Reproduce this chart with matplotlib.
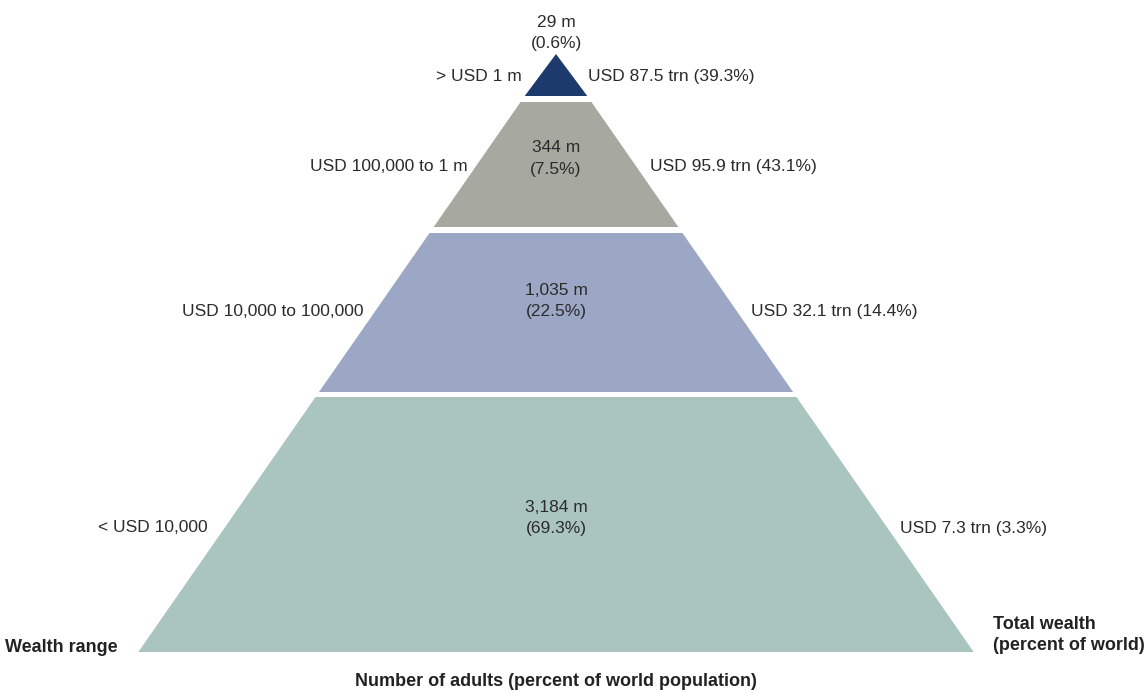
import matplotlib.pyplot as plt
from matplotlib.patches import Polygon

# data (top tier first)
wealth_ranges = ["> USD 1 m", "USD 100,000 to 1 m", "USD 10,000 to 100,000", "< USD 10,000"]
adults_m = ["29", "344", "1,035", "3,184"]
adults_pct = ["0.6", "7.5", "22.5", "69.3"]
wealth_trn = ["87.5", "95.9", "32.1", "7.3"]
wealth_pct = ["39.3", "43.1", "14.4", "3.3"]

# layout (pixel coordinates, y down)
tier_top = [54, 102, 233, 397]
tier_bottom = [96, 227, 392, 652]
apex_x, apex_y = 556, 51
slope = 0.695
colors = ["#1d3a6c", "#a7a9a1", "#9ba7c4", "#aac5c0"]
label_y = [76, 166, 311, 528]
left_end = [522, 468, 363, 208]
right_start = [588, 650, 751, 900]
center_y = [(22, 43), (147, 169), (290, 311), (508, 529)]
text_color = "#2b2b2b"

plt.rcParams['font.family'] = ['Liberation Sans', 'DejaVu Sans']

fig = plt.figure(figsize=(11.46, 6.91), dpi=100)
ax = fig.add_axes([0, 0, 1, 1])
ax.set_xlim(0, 1146)
ax.set_ylim(691, 0)
ax.axis('off')

for i in range(len(wealth_ranges)):
    t, b = tier_top[i], tier_bottom[i]
    ht = (t - apex_y) * slope
    hb = (b - apex_y) * slope
    if i == 0:
        pts = [(apex_x, t), (apex_x + hb, b), (apex_x - hb, b)]
    else:
        pts = [(apex_x - ht, t), (apex_x + ht, t), (apex_x + hb, b), (apex_x - hb, b)]
    ax.add_patch(Polygon(pts, closed=True, facecolor=colors[i], edgecolor='none'))

    ax.text(left_end[i], label_y[i], wealth_ranges[i], ha='right', va='center',
            fontsize=12.5, color=text_color)
    ax.text(right_start[i], label_y[i],
            "USD %s trn (%s%%)" % (wealth_trn[i], wealth_pct[i]),
            ha='left', va='center', fontsize=12.5, color=text_color)
    ax.text(apex_x, center_y[i][0], "%s m" % adults_m[i], ha='center', va='center',
            fontsize=12.5, color=text_color)
    ax.text(apex_x, center_y[i][1], "(%s%%)" % adults_pct[i], ha='center', va='center',
            fontsize=12.5, color=text_color)

ax.text(5, 647, "Wealth range", ha='left', va='center', fontsize=13,
        fontweight='bold', color="#222222")
ax.text(993, 635, "Total wealth\n(percent of world)", ha='left', va='center',
        fontsize=13, fontweight='bold', color="#222222", linespacing=1.25)
ax.text(apex_x, 682, "Number of adults (percent of world population)", ha='center',
        va='center', fontsize=13, fontweight='bold', color="#222222")

fig.savefig("out.png", dpi=100)
